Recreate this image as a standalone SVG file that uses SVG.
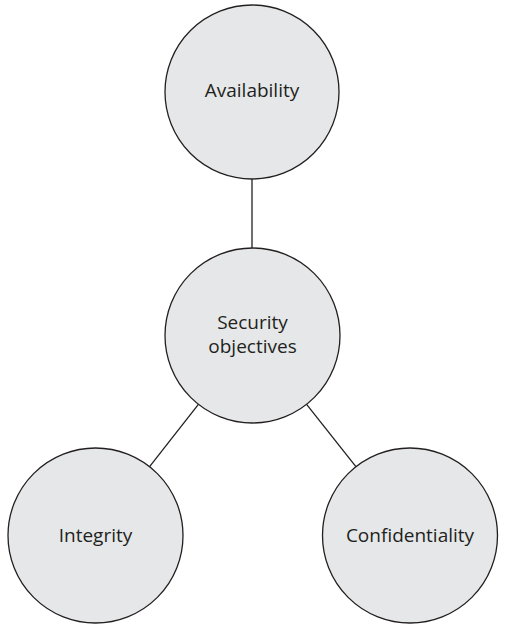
<svg xmlns="http://www.w3.org/2000/svg" width="531" height="641" viewBox="0 0 531 641">
<style>
.node{fill:#e6e7e8;stroke:#231f20;stroke-width:1.3}
.lbl{font-family:"Open Sans","Noto Sans",sans-serif;font-size:19px;fill:#231f20;text-anchor:middle}
.edge{stroke:#231f20;stroke-width:1.3;fill:none}
</style>
<rect width="531" height="641" fill="#ffffff"/>
<g id="connectors">
<line class="edge" x1="252" y1="179" x2="252" y2="248"/>
<line class="edge" x1="198.4" y1="404.4" x2="149.6" y2="466.6"/>
<line class="edge" x1="306.6" y1="404.4" x2="355.9" y2="466.6"/>
</g>
<g id="availability">
<circle class="node" cx="252" cy="92" r="87"/>
<text class="lbl" x="252" y="97">Availability</text>
</g>
<g id="security-objectives">
<circle class="node" cx="252.5" cy="335.5" r="87.5"/>
<text class="lbl" x="252.5" y="329">Security</text>
<text class="lbl" x="252.5" y="353">objectives</text>
</g>
<g id="integrity">
<circle class="node" cx="95.5" cy="535.5" r="87.5"/>
<text class="lbl" x="95.5" y="542">Integrity</text>
</g>
<g id="confidentiality">
<circle class="node" cx="410" cy="535.5" r="87.5"/>
<text class="lbl" x="410" y="542">Confidentiality</text>
</g>
</svg>
